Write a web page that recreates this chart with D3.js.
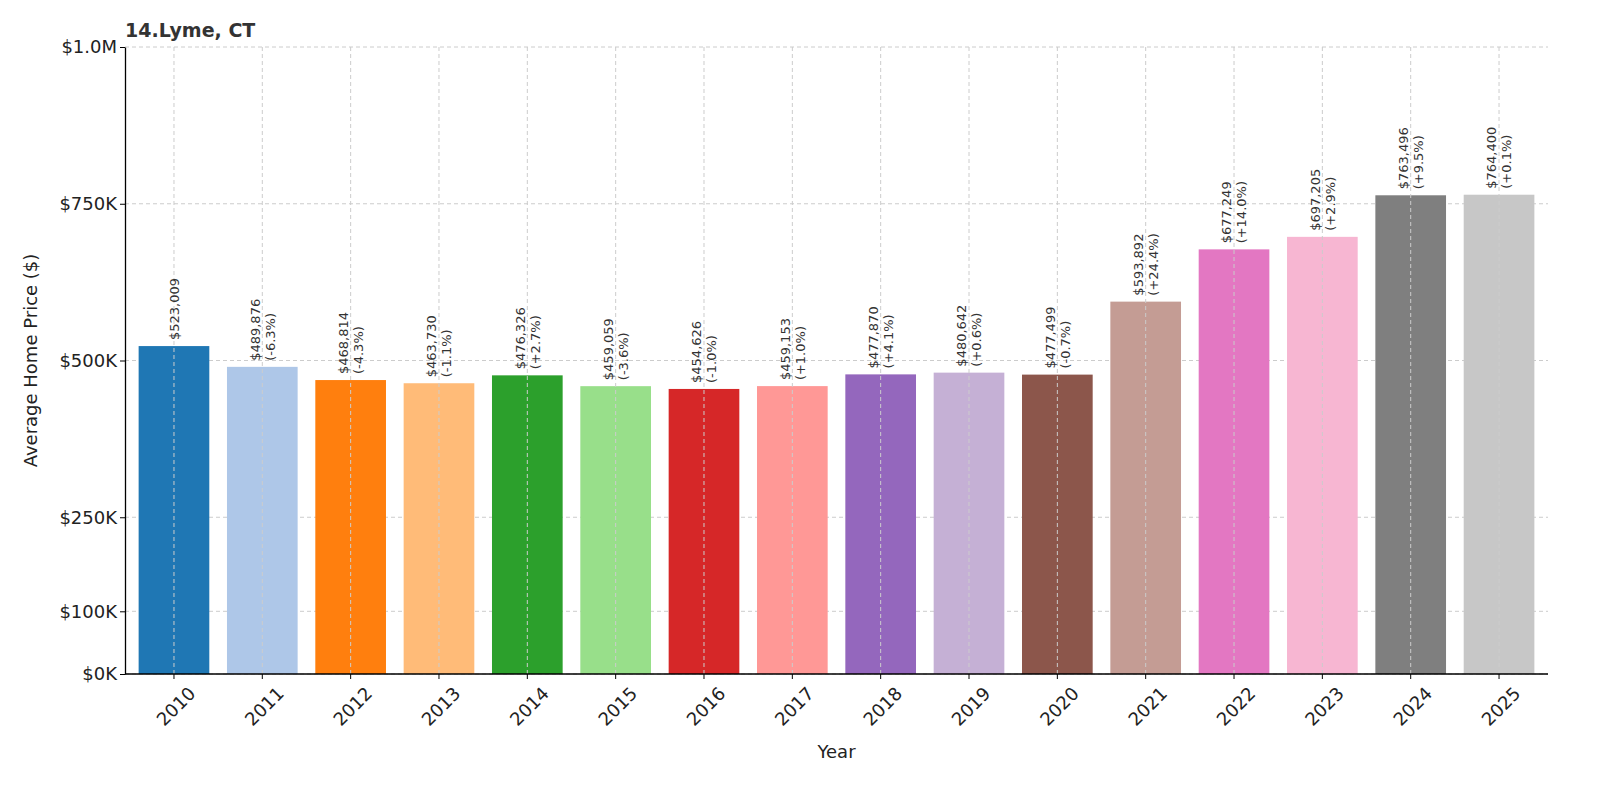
<!DOCTYPE html>
<html><head><meta charset="utf-8">
<script src="https://cdn.jsdelivr.net/npm/d3@7"></script>
<style>body{margin:0;background:#fff;font-family:"DejaVu Sans",sans-serif;}</style>
</head><body><svg id="svg" width="1600" height="800"></svg>
<script>
const years = ["2010","2011","2012","2013","2014","2015","2016","2017","2018","2019","2020","2021","2022","2023","2024","2025"];
const prices = [523009,489876,468814,463730,476326,459059,454626,459153,477870,480642,477499,593892,677249,697205,763496,764400];
const changes = [null,"-6.3%","-4.3%","-1.1%","+2.7%","-3.6%","-1.0%","+1.0%","+4.1%","+0.6%","-0.7%","+24.4%","+14.0%","+2.9%","+9.5%","+0.1%"];
const yTicks = [0,100000,250000,500000,750000,1000000];
const yTickLabels = ["$0K","$100K","$250K","$500K","$750K","$1.0M"];
const colors = ["#1f77b4","#aec7e8","#ff7f0e","#ffbb78","#2ca02c","#98df8a","#d62728","#ff9896","#9467bd","#c5b0d5","#8c564b","#c49c94","#e377c2","#f7b6d2","#7f7f7f","#c7c7c7"];

const svg = d3.select("#svg");
const mLeft = 125, mRight = 1548, mTop = 47, mBottom = 674;
const x = d3.scaleBand().domain(years).range([129.8, 1543.2]).paddingInner(0.2).paddingOuter(0.1);
const y = d3.scaleLinear().domain([0, 1000000]).range([mBottom, mTop]);

// grid
svg.append("g").selectAll("line").data(yTicks).join("line")
  .attr("x1", mLeft).attr("x2", mRight).attr("y1", d => y(d)).attr("y2", d => y(d))
  .attr("stroke", "#ccc").attr("stroke-dasharray", "4,3");

// bars
svg.append("g").selectAll("rect").data(years).join("rect")
  .attr("x", d => x(d)).attr("width", x.bandwidth())
  .attr("y", (d, i) => y(prices[i])).attr("height", (d, i) => mBottom - y(prices[i]))
  .attr("fill", (d, i) => colors[i]);

svg.append("g").selectAll("line").data(years).join("line")
  .attr("x1", d => x(d) + x.bandwidth() / 2).attr("x2", d => x(d) + x.bandwidth() / 2)
  .attr("y1", mTop).attr("y2", mBottom)
  .attr("stroke", "#ccc").attr("stroke-dasharray", "4,3");

// value labels
const lab = svg.append("g").selectAll("text").data(years).join("text")
  .attr("transform", (d, i) => `translate(${x(d) + x.bandwidth() / 2},${y(prices[i]) - 6}) rotate(-90)`)
  .attr("font-size", 13).attr("fill", "#333");
lab.each(function (d, i) {
  const t = d3.select(this);
  const fmt = "$" + d3.format(",")(prices[i]);
  if (changes[i] === null) {
    t.append("tspan").attr("x", 0).attr("dy", "0.35em").text(fmt);
  } else {
    t.append("tspan").attr("x", 0).attr("dy", "-0.2em").text(fmt);
    t.append("tspan").attr("x", 0).attr("dy", "1.15em").text("(" + changes[i] + ")");
  }
});

// axes
svg.append("g").attr("transform", `translate(${mLeft},0)`)
  .call(d3.axisLeft(y).tickValues(yTicks).tickFormat((d, i) => yTickLabels[i]).tickSize(5).tickSizeOuter(0))
  .call(g => g.selectAll("text").attr("font-size", 18).attr("fill", "#222").attr("font-family", "DejaVu Sans"))
  .call(g => g.select(".domain").attr("stroke", "#000").attr("stroke-width", 1.3));

svg.append("g").attr("transform", `translate(0,${mBottom})`)
  .call(d3.axisBottom(x).tickSize(5).tickSizeOuter(0))
  .call(g => g.select(".domain").attr("d", `M${mLeft},0H${mRight}`).attr("stroke", "#000").attr("stroke-width", 1.3))
  .call(g => g.selectAll("text").attr("font-size", 18).attr("fill", "#222").attr("font-family", "DejaVu Sans")
    .attr("text-anchor", "end").attr("transform", "translate(8,6) rotate(-45)"));

svg.append("text").attr("x", (mLeft + mRight) / 2).attr("y", 758).attr("text-anchor", "middle")
  .attr("font-size", 18).attr("fill", "#222").text("Year");
svg.append("text").attr("transform", `translate(37,${(mTop + mBottom) / 2}) rotate(-90)`).attr("text-anchor", "middle")
  .attr("font-size", 18).attr("fill", "#222").text("Average Home Price ($)");
svg.append("text").attr("x", 125).attr("y", 37).attr("font-size", 19).attr("font-weight", "bold")
  .attr("fill", "#333").text("14.Lyme, CT");
</script></body></html>
